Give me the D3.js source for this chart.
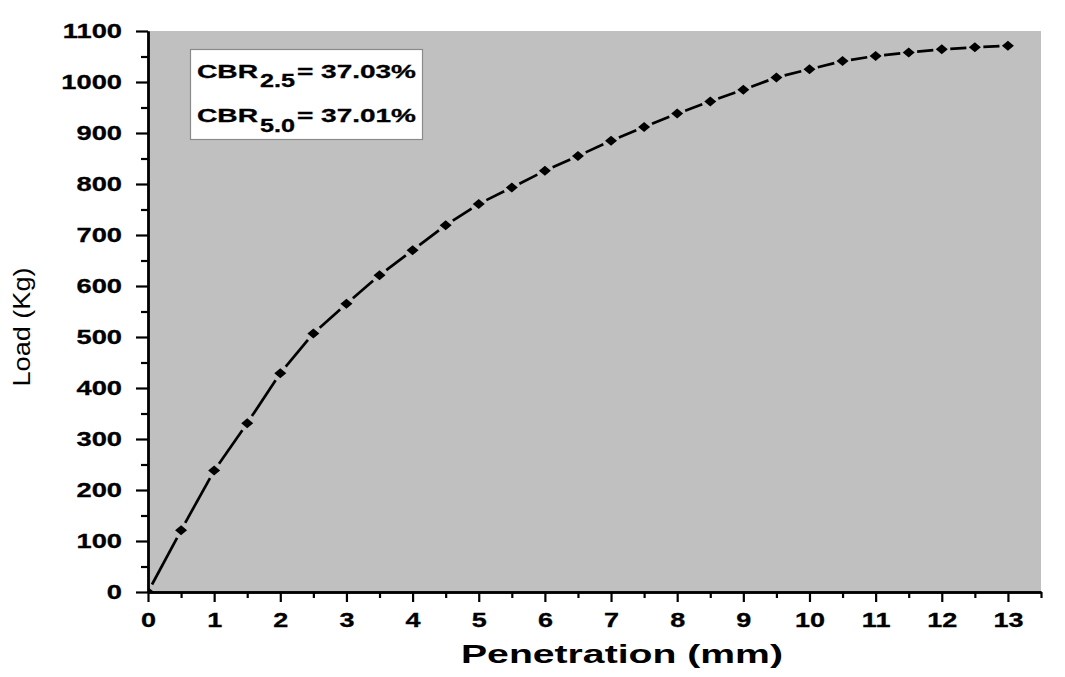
<!DOCTYPE html>
<html>
<head>
<meta charset="utf-8">
<script src="https://cdn.jsdelivr.net/npm/d3@7"></script>
<style>
  body { margin: 0; background: #fff; }
  svg { display: block; font-family: "Liberation Sans", Arial, sans-serif; }
</style>
</head>
<body>
<div id="chart"></div>
<script>
// Data
const penetration = [0, 0.5, 1, 1.5, 2, 2.5, 3, 3.5, 4, 4.5, 5, 5.5, 6, 6.5, 7,
  7.5, 8, 8.5, 9, 9.5, 10, 10.5, 11, 11.5, 12, 12.5, 13];
const load = [0, 121, 238, 331, 429, 507, 565, 621, 670, 719, 761, 793, 826, 855, 885,
  912, 938, 962, 985, 1009, 1025, 1041, 1051, 1058, 1064, 1068, 1071];

const xTicks = [0, 1, 2, 3, 4, 5, 6, 7, 8, 9, 10, 11, 12, 13];
const yTicks = [0, 100, 200, 300, 400, 500, 600, 700, 800, 900, 1000, 1100];

const cbrSubs = ["2.5", "5.0"];
const cbrValues = ["37.03%", "37.01%"];

// Size of the chart
const W = 1065, H = 677;
const margin = { top: 31, right: 24, bottom: 85, left: 148 },
    width = W - margin.left - margin.right,
    height = H - margin.top - margin.bottom;

const svg = d3.select("#chart").append("svg")
    .attr("width", W)
    .attr("height", H);

const g = svg.append("g")
    .attr("transform", "translate(" + margin.left + "," + margin.top + ")");

const x = d3.scaleLinear().domain([0, 13.5]).range([0, width]);
const y = d3.scaleLinear().domain([0, 1100]).range([height, 0]);

// plot area background
g.append("rect")
    .attr("width", width)
    .attr("height", height)
    .attr("fill", "#c0c0c0");

g.append("clipPath").attr("id", "plot-clip")
  .append("rect")
    .attr("width", width)
    .attr("height", height);

const points = penetration.map((p, i) => [x(p), y(load[i])]);

// line pieces, broken around each symbol
const gap = 8.5;
const lines = g.append("g").attr("clip-path", "url(#plot-clip)");
for (let i = 0; i < points.length - 1; i++) {
    const [x0, y0] = points[i], [x1, y1] = points[i + 1];
    const d = Math.hypot(x1 - x0, y1 - y0);
    if (d <= 2 * gap) continue;
    const ux = (x1 - x0) / d, uy = (y1 - y0) / d;
    lines.append("line")
        .attr("x1", x0 + ux * gap)
        .attr("y1", y0 + uy * gap)
        .attr("x2", x1 - ux * gap)
        .attr("y2", y1 - uy * gap)
        .attr("stroke", "#000")
        .attr("stroke-width", 2.7);
}

// diamond symbols
lines.selectAll("path.pt")
    .data(points)
    .enter().append("path")
    .attr("class", "pt")
    .attr("d", "M0,-5L6,0L0,5L-6,0Z")
    .attr("transform", d => "translate(" + d[0] + "," + d[1] + ")")
    .attr("fill", "#000");

// axes
const minorX = d3.range(0.5, 13.6, 1);
const minorY = d3.range(50, 1100, 100);

function styleAxis(sel) {
    sel.selectAll("path.domain").attr("stroke", "#000").attr("stroke-width", 2.4);
    sel.selectAll(".tick line").attr("stroke", "#000").attr("stroke-width", 2.2);
}

const yAxisG = g.append("g")
    .call(d3.axisLeft(y).tickValues(yTicks).tickSize(12).tickSizeOuter(0).tickFormat(d3.format("d")));
g.append("g")
    .call(d3.axisLeft(y).tickValues(minorY).tickSize(7).tickSizeOuter(0).tickFormat(""))
    .call(styleAxis);
yAxisG.call(styleAxis);
yAxisG.selectAll("text")
    .attr("font-family", "Liberation Sans, Arial, sans-serif")
    .attr("font-size", 19.5)
    .attr("font-weight", "bold")
    .attr("fill", "#000")
    .attr("stroke", "#000")
    .attr("stroke-width", 0.3)
    .attr("x", -26 / 1.4)
    .attr("dy", "0.34em")
    .attr("transform", "scale(1.4,1)");

const xAxisG = g.append("g")
    .attr("transform", "translate(0," + height + ")")
    .call(d3.axisBottom(x).tickValues(xTicks).tickSize(10).tickSizeOuter(0));
g.append("g")
    .attr("transform", "translate(0," + height + ")")
    .call(d3.axisBottom(x).tickValues(minorX).tickSize(6).tickSizeOuter(0).tickFormat(""))
    .call(styleAxis);
xAxisG.call(styleAxis);
xAxisG.selectAll("text")
    .attr("font-family", "Liberation Sans, Arial, sans-serif")
    .attr("font-size", 20)
    .attr("font-weight", "bold")
    .attr("fill", "#000")
    .attr("stroke", "#000")
    .attr("stroke-width", 0.3)
    .attr("y", 35)
    .attr("dy", 0)
    .attr("transform", "scale(1.35,1)");

// axis titles
svg.append("text")
    .attr("x", 461)
    .attr("y", 663)
    .attr("font-size", 25)
    .attr("font-weight", "bold")
    .attr("textLength", 322)
    .attr("lengthAdjust", "spacingAndGlyphs")
    .text("Penetration (mm)");

svg.append("text")
    .attr("transform", "translate(30,327) rotate(-90)")
    .attr("text-anchor", "middle")
    .attr("font-size", 24)
    .attr("textLength", 119)
    .attr("lengthAdjust", "spacingAndGlyphs")
    .text("Load (Kg)");

// CBR box
const box = svg.append("g");
box.append("rect")
    .attr("x", 190.5)
    .attr("y", 49.5)
    .attr("width", 232)
    .attr("height", 90)
    .attr("fill", "#fff")
    .attr("stroke", "#8a8a8a")
    .attr("stroke-width", 1.2);

cbrSubs.forEach((s, i) => {
    const base = 77.5 + i * 44.5;
    const row = box.append("g")
        .attr("font-size", 18.5)
        .attr("font-weight", "bold")
        .attr("fill", "#000")
        .attr("stroke", "#000")
        .attr("stroke-width", 0.3);
    row.append("text")
        .attr("x", 197).attr("y", base)
        .attr("textLength", 61).attr("lengthAdjust", "spacingAndGlyphs")
        .text("CBR");
    row.append("text")
        .attr("x", 260).attr("y", base + 9.5)
        .attr("textLength", 35).attr("lengthAdjust", "spacingAndGlyphs")
        .text(s);
    row.append("text")
        .attr("x", 297).attr("y", base)
        .attr("textLength", 119).attr("lengthAdjust", "spacingAndGlyphs")
        .text("= " + cbrValues[i]);
});
</script>
</body>
</html>
